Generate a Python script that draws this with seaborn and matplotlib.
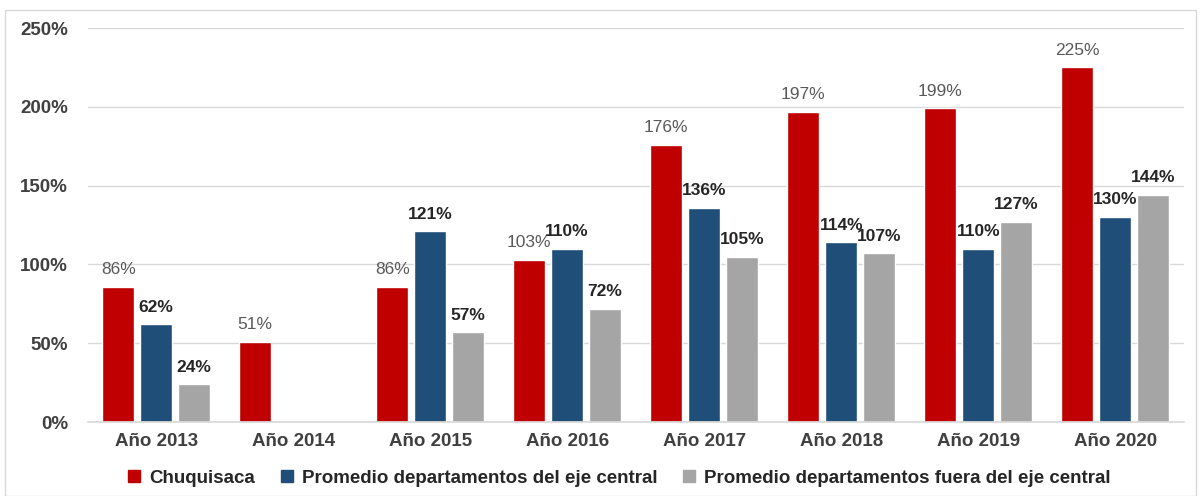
import numpy as np
import pandas as pd
import matplotlib
matplotlib.use("Agg")
import matplotlib.pyplot as plt
import seaborn as sns
from matplotlib.patches import Rectangle
from matplotlib.lines import Line2D

years = ["Año 2013", "Año 2014", "Año 2015", "Año 2016", "Año 2017", "Año 2018", "Año 2019", "Año 2020"]
series = ["Chuquisaca", "Promedio departamentos del eje central", "Promedio departamentos fuera del eje central"]
chuquisaca = [86, 51, 86, 103, 176, 197, 199, 225]
eje_central = [62, np.nan, 121, 110, 136, 114, 110, 130]
fuera_eje = [24, np.nan, 57, 72, 105, 107, 127, 144]
colors = ["#C00000", "#1F4E79", "#A5A5A5"]

rows = []
for vals, s in zip([chuquisaca, eje_central, fuera_eje], series):
    for y, v in zip(years, vals):
        rows.append({"year": y, "series": s, "value": v / 100.0})
df = pd.DataFrame(rows)

sns.set_theme(style="white")
plt.rcParams["font.family"] = ["Liberation Sans", "DejaVu Sans"]

fig = plt.figure(figsize=(12.01, 4.96), dpi=100)
ax = fig.add_axes([0.073, 0.149, 0.9126, 0.7945])

sns.barplot(data=df, x="year", y="value", hue="series", hue_order=series,
            palette=colors, width=0.83, gap=0.16, ax=ax, legend=False,
            saturation=1, errorbar=None)

ax.set_ylim(0, 2.5)
ax.set_xlim(-0.5, 7.5)
ax.set_yticks(np.arange(0, 2.51, 0.5))
ax.set_yticklabels([f"{int(t*100)}%" for t in np.arange(0, 2.51, 0.5)],
                   fontsize=13.5, fontweight="bold", color="#404040")
ax.set_xticks(range(len(years)))
ax.set_xticklabels(years, fontsize=13.5, fontweight="bold", color="#404040")
ax.tick_params(axis="x", length=0, pad=8)
ax.tick_params(axis="y", length=0, pad=14)
ax.set_xlabel("")
ax.set_ylabel("")
ax.yaxis.grid(True, color="#D9D9D9", linewidth=1)
ax.set_axisbelow(True)
for sp in ["top", "right", "left"]:
    ax.spines[sp].set_visible(False)
ax.spines["bottom"].set_color("#D9D9D9")

label_styles = [("#595959", "normal"), ("#262626", "bold"), ("#262626", "bold")]
for cont, (col, fw) in zip(ax.containers, label_styles):
    labels = []
    for bar in cont:
        h = bar.get_height()
        labels.append("" if (h is None or np.isnan(h)) else f"{round(h*100):.0f}%")
    ax.bar_label(cont, labels=labels, padding=7, fontsize=12.5, color=col, fontweight=fw)

handles = [Line2D([0], [0], marker="s", linestyle="", markersize=8,
                  markerfacecolor=c, markeredgecolor=c) for c in colors]
fig.legend(handles, series, loc="lower center", bbox_to_anchor=(0.515, -0.015), ncol=3,
           frameon=False, prop={"size": 13.5, "weight": "bold"}, handletextpad=0.4,
           handlelength=0.8, columnspacing=1.3, labelcolor="#262626")

fig.add_artist(Rectangle((0.004, 0.0), 0.992, 0.98, transform=fig.transFigure,
                         fill=False, edgecolor="#D9D9D9", linewidth=1))

fig.savefig("out.png", dpi=100)
